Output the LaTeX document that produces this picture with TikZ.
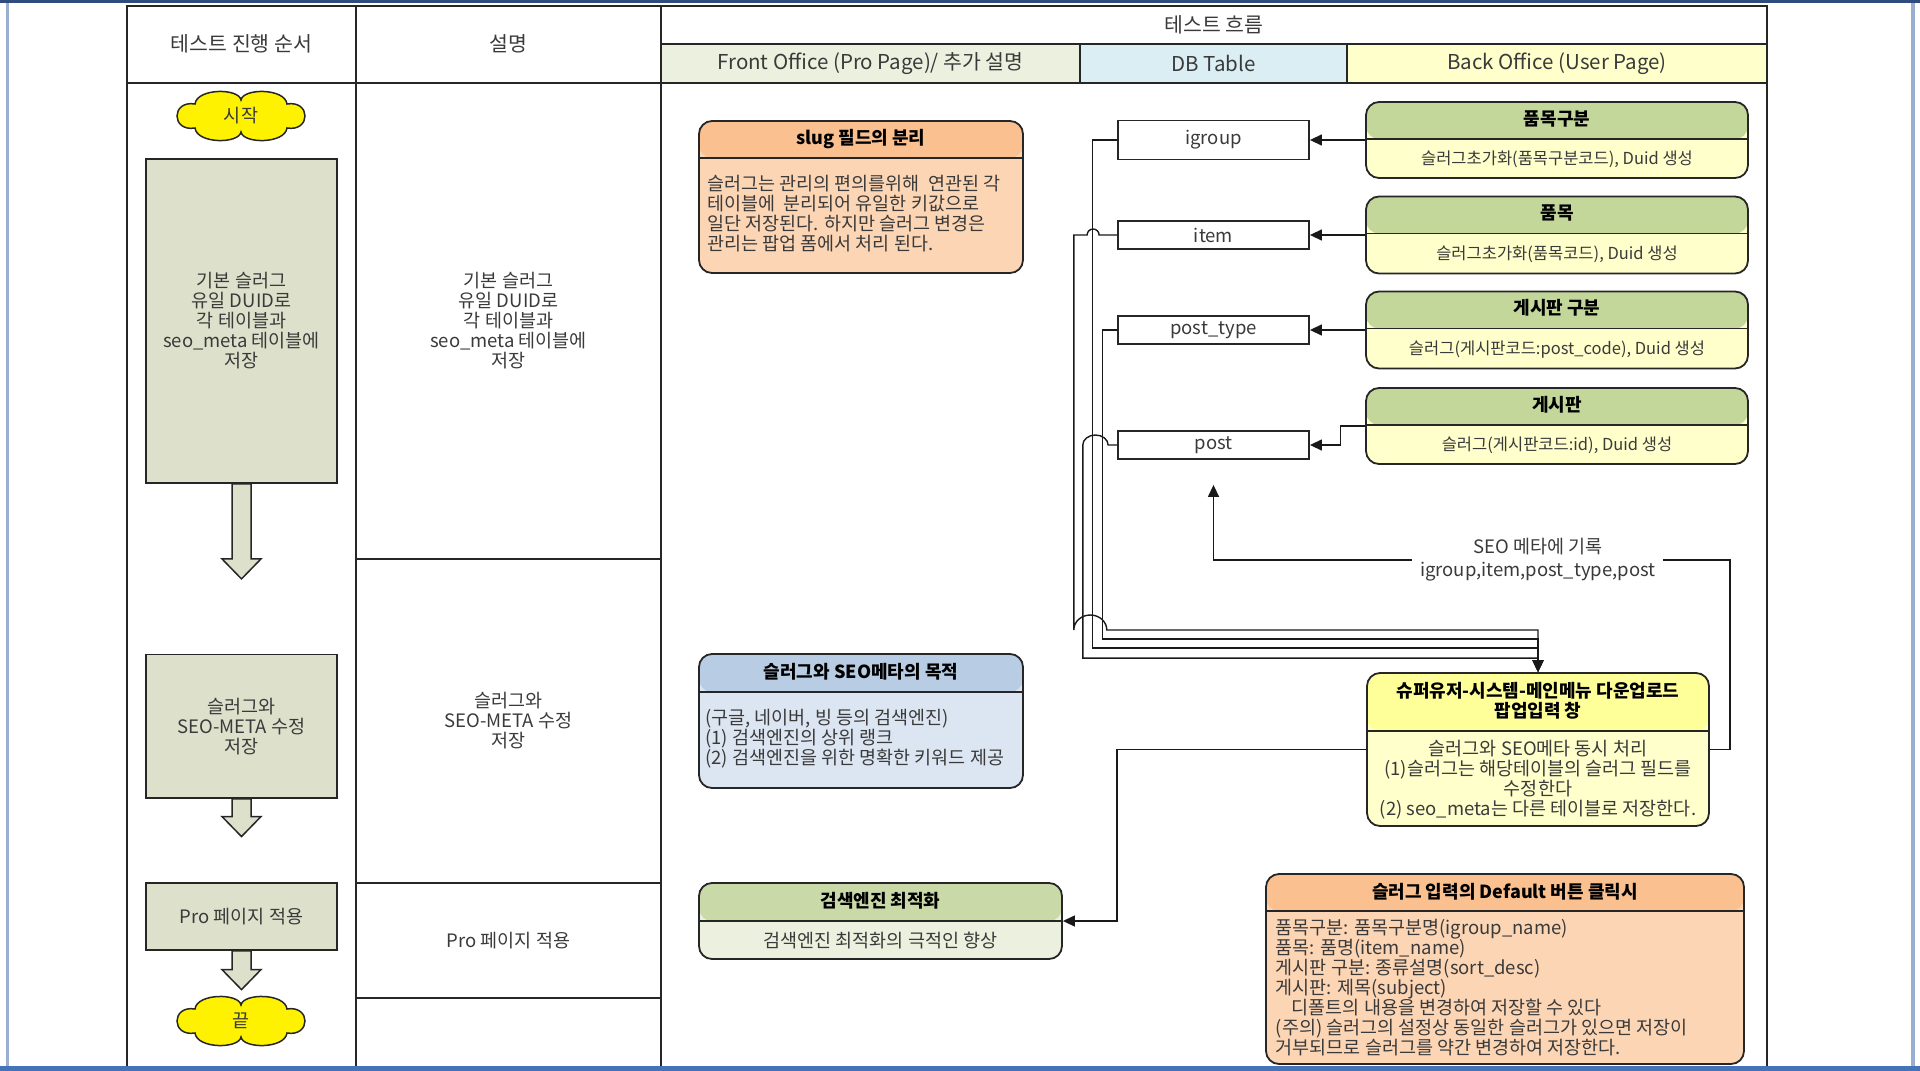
\documentclass[tikz,border=0pt]{standalone}
\usepackage{fontspec}
\setmainfont{Noto Sans CJK KR}
\usetikzlibrary{arrows.meta}
\definecolor{framenavy}{HTML}{2F4B80}
\definecolor{frameblue}{HTML}{4672B9}
\definecolor{framegray}{HTML}{9AAFCF}
\definecolor{txtgray}{HTML}{3A3A3A}
\definecolor{procfill}{HTML}{DDE1CB}
\definecolor{fogreen}{HTML}{EBF1DE}
\definecolor{dbblue}{HTML}{DAEEF3}
\definecolor{boyellow}{HTML}{FFFFCC}
\definecolor{orangehd}{HTML}{FAC090}
\definecolor{orangebd}{HTML}{FCD5B4}
\definecolor{greenhd}{HTML}{C4D79B}
\definecolor{suphd}{HTML}{FFFF99}
\definecolor{bluehd}{HTML}{B8CCE4}
\definecolor{bluebd}{HTML}{DCE6F2}
\definecolor{seohd}{HTML}{CAD9A8}

\begin{document}
\begin{tikzpicture}[x=1pt, y=-1pt, >={Triangle[length=12pt, width=11pt]}]
	\tikzstyle{every node} = [font=\fontsize{18.5}{20}\selectfont, text=txtgray, inner sep=0pt]
	\tikzstyle{cell} = [draw=black!85, line width=1.8pt, align=center]
	\tikzstyle{headcell} = [cell, font=\fontsize{20.5}{22}\selectfont]
	\tikzstyle{procbox} = [draw=black!85, line width=1.8pt, fill=procfill, align=center]
	\tikzstyle{bigarrow} = [draw=black!85, line width=1.5pt, fill=procfill]
	\tikzstyle{startend} = [minimum width=128pt, minimum height=48pt]
	\tikzstyle{cloudline} = [draw=black!85, line width=1.5pt, fill=yellow]
	\tikzstyle{dbbox} = [draw=black!85, line width=1.8pt, fill=white, minimum width=191pt, minimum height=28pt]
	\tikzstyle{hdtext} = [font=\fontsize{18}{20}\selectfont\bfseries, text=black, align=center]
	\tikzstyle{botext} = [font=\fontsize{16.5}{20}\selectfont]
	\tikzstyle{link} = [line width=1.4pt, draw=black!90]
	\tikzstyle{lbl} = [fill=white, align=center, inner xsep=8pt, inner ysep=2pt]
	\tikzset{twobox/.style n args={3}{draw=black!85, line width=1.8pt, rounded corners=13pt, fill=#3,
			path picture={
				\fill[#2] (path picture bounding box.north west) rectangle ([yshift=-#1pt]path picture bounding box.north east);
				\draw[line width=1.8pt] ([yshift=-#1pt]path picture bounding box.north west) -- ([yshift=-#1pt]path picture bounding box.north east);
			}}}
	\useasboundingbox (0,0) rectangle (1920,1071);

	% table
	\node[headcell, minimum width=229pt, minimum height=76.6pt] (hseq) at (241.5,44.3) {테스트 진행 순서};
	\node[headcell, minimum width=305pt, minimum height=76.6pt] (hdesc) at (508.5,44.3) {설명};
	\node[headcell, minimum width=1106pt, minimum height=38pt] (hflow) at (1214,25) {테스트 흐름};
	\node[headcell, fill=fogreen, minimum width=419pt, minimum height=38.6pt] (hfo) at (870.5,63.3) {Front Office (Pro Page)/ 추가 설명};
	\node[headcell, fill=dbblue, minimum width=267pt, minimum height=38.6pt] (hdb) at (1213.5,63.3) {DB Table};
	\node[headcell, fill=boyellow, minimum width=420pt, minimum height=38.6pt] (hbo) at (1557,63.3) {Back Office (User Page)};
	\node[cell, minimum width=229pt, minimum height=988.4pt] (cseq) at (241.5,576.8) {};
	\node[cell, minimum width=1106pt, minimum height=988.4pt] (cflow) at (1214,576.8) {};
	\node[cell, minimum width=305pt, minimum height=476.4pt] (d1) at (508.5,320.8) {기본 슬러그\\유일 DUID로\\각 테이블과\\seo\_meta 테이블에\\저장};
	\node[cell, minimum width=305pt, minimum height=324pt] (d2) at (508.5,721) {슬러그와\\SEO-META 수정\\저장};
	\node[cell, minimum width=305pt, minimum height=115pt] (d3) at (508.5,940.5) {Pro 페이지 적용};
	\node[cell, minimum width=305pt, minimum height=73pt] (d4) at (508.5,1034.5) {};

	% test order
	\node[startend] (start) at (241,116) {};
	\draw[cloudline] (start.center) ++(0,-16) .. controls +(2,-12) and +(-2,-16) .. ++(46,4)
		.. controls +(24,-4) and +(24,4) .. ++(0,24)
		.. controls +(-2,16) and +(2,12) .. ++(-46,4)
		.. controls +(-2,12) and +(2,16) .. ++(-46,-4)
		.. controls +(-24,4) and +(-24,-4) .. ++(0,-24)
		.. controls +(2,-16) and +(-2,-12) .. cycle;
	\node (startt) at (start.center) {시작};
	\node[procbox, minimum width=191pt, minimum height=324pt] (s1) at (241.5,321) {기본 슬러그\\유일 DUID로\\각 테이블과\\seo\_meta 테이블에\\저장};
	\draw[bigarrow] ([xshift=-9.5pt]s1.south) -- ++(0,75) -- ++(-10,0) -- ++(19.5,20) -- ++(19.5,-20) -- ++(-10,0) -- ++(0,-75) -- cycle;
	\node[procbox, minimum width=191pt, minimum height=143.5pt] (s2) at (241.5,726.3) {슬러그와\\SEO-META 수정\\저장};
	\draw[bigarrow] ([xshift=-9.5pt]s2.south) -- ++(0,17.6) -- ++(-10,0) -- ++(19.5,20) -- ++(19.5,-20) -- ++(-10,0) -- ++(0,-17.6) -- cycle;
	\node[procbox, minimum width=191pt, minimum height=67pt] (s3) at (241.5,916.5) {Pro 페이지 적용};
	\draw[bigarrow] ([xshift=-9.5pt]s3.south) -- ++(0,18.7) -- ++(-10,0) -- ++(19.5,20) -- ++(19.5,-20) -- ++(-10,0) -- ++(0,-18.7) -- cycle;
	\node[startend] (finish) at (241,1021) {};
	\draw[cloudline] (finish.center) ++(0,-16) .. controls +(2,-12) and +(-2,-16) .. ++(46,4)
		.. controls +(24,-4) and +(24,4) .. ++(0,24)
		.. controls +(-2,16) and +(2,12) .. ++(-46,4)
		.. controls +(-2,12) and +(2,16) .. ++(-46,-4)
		.. controls +(-24,4) and +(-24,-4) .. ++(0,-24)
		.. controls +(2,-16) and +(-2,-12) .. cycle;
	\node (finisht) at (finish.center) {끝};

	% front office
	\node[twobox={37}{orangehd}{orangebd}, minimum width=324pt, minimum height=152pt] (slug) at (861,197) {};
	\node[hdtext] (slugh) at ([yshift=-18.5pt]slug.north) {slug 필드의 분리};
	\node[anchor=west, align=left] (slugb) at ([xshift=9pt, yshift=-16.5pt]slug.west) {슬러그는 관리의 편의를위해\ \ 연관된 각\\테이블에\ \ 분리되어 유일한 키값으로\\일단 저장된다. 하지만 슬러그 변경은\\관리는 팝업 폼에서 처리 된다.};

	\node[twobox={38}{bluehd}{bluebd}, minimum width=324pt, minimum height=134pt] (goal) at (861,721) {};
	\node[hdtext] (goalh) at ([yshift=-19pt]goal.north) {슬러그와 SEO메타의 목적};
	\node[anchor=west, align=left] (goalb) at ([xshift=7pt, yshift=-18pt]goal.west) {(구글, 네이버, 빙 등의 검색엔진)\\(1) 검색엔진의 상위 랭크\\(2) 검색엔진을 위한 명확한 키워드 제공};

	\node[twobox={38}{seohd}{fogreen}, minimum width=363pt, minimum height=76pt] (opt) at (880.5,921) {};
	\node[hdtext] (opth) at ([yshift=-19pt]opt.north) {검색엔진 최적화};
	\node (optb) at ([yshift=19pt]opt.south) {검색엔진 최적화의 극적인 향상};

	% db table
	\node[dbbox, minimum height=39pt] (igroup) at (1213.5,140) {igroup};
	\node[dbbox] (item) at (1213.5,235) {item};
	\node[dbbox] (ptype) at (1213.5,330) {post\_type};
	\node[dbbox] (post) at (1213.5,445) {post};

	% back office
	\node[twobox={37}{greenhd}{boyellow}, minimum width=382pt, minimum height=76pt] (pg) at (1557,140) {};
	\node[hdtext] (pgh) at ([yshift=-17.5pt]pg.north) {품목구분};
	\node[botext] (pgb) at ([yshift=20pt]pg.south) {슬러그초가화(품목구분코드), Duid 생성};
	\node[twobox={37}{greenhd}{boyellow}, minimum width=382pt, minimum height=77pt] (pm) at (1557,235) {};
	\node[hdtext] (pmh) at ([yshift=-17.5pt]pm.north) {품목};
	\node[botext] (pmb) at ([yshift=20pt]pm.south) {슬러그초가화(품목코드), Duid 생성};
	\node[twobox={37}{greenhd}{boyellow}, minimum width=382pt, minimum height=77pt] (bg) at (1557,330) {};
	\node[hdtext] (bgh) at ([yshift=-17.5pt]bg.north) {게시판 구분};
	\node[botext] (bgb) at ([yshift=20pt]bg.south) {슬러그(게시판코드:post\_code), Duid 생성};
	\node[twobox={37}{greenhd}{boyellow}, minimum width=382pt, minimum height=76pt] (bp) at (1557,426) {};
	\node[hdtext] (bph) at ([yshift=-17.5pt]bp.north) {게시판};
	\node[botext] (bpb) at ([yshift=20pt]bp.south) {슬러그(게시판코드:id), Duid 생성};

	\node[twobox={58}{suphd}{boyellow}, minimum width=342pt, minimum height=153pt] (sup) at (1538,749.5) {};
	\node[hdtext] (suph) at ([yshift=-28.5pt]sup.north) {슈퍼유저-시스템-메인메뉴 다운업로드\\팝업입력 창};
	\node[align=center] (supb) at ([yshift=47.5pt]sup.south) {슬러그와 SEO메타 동시 처리\\(1)슬러그는 해당테이블의 슬러그 필드를\\수정한다\\(2) seo\_meta는 다른 테이블로 저장한다.};

	\node[twobox={37}{orangehd}{orangebd}, minimum width=478pt, minimum height=190pt] (dflt) at (1505,969) {};
	\node[hdtext] (dflth) at ([yshift=-19pt]dflt.north) {슬러그 입력의 Default 버튼 클릭시};
	\node[anchor=west, align=left] (dfltb) at ([xshift=10.5pt, yshift=-19pt]dflt.west) {품목구분: 품목구분명(igroup\_name)\\품목: 품명(item\_name)\\게시판 구분: 종류설명(sort\_desc)\\게시판: 제목(subject)\\\hspace*{16pt}디폴트의 내용을 변경하여 저장할 수 있다\\(주의) 슬러그의 설정상 동일한 슬러그가 있으면 저장이\\거부되므로 슬러그를 약간 변경하여 저장한다.};

	% connectors
	\draw[link, ->] (pg.west) -- (igroup.east);
	\draw[link, ->] (pm.west) -- (item.east);
	\draw[link, ->] (bg.west) -- (ptype.east);
	\draw[link, ->] (bp.west) -- ++(-24.5,0) |- (post.east);
	\draw[link, ->] (igroup.west) -- ++(-24.7,0) |- ([yshift=24pt]sup.north) -- (sup.north);
	\draw[link, ->] (ptype.west) -- ++(-14.7,0) |- ([yshift=33pt]sup.north) -- (sup.north);
	\draw[link, ->] (post.west) -- ++(-9,0) arc[start angle=0, end angle=-180, x radius=12.65, y radius=10] |- ([yshift=14pt]sup.north) -- (sup.north);
	\draw[link, ->] (item.west) -- ++(-18,0) arc[start angle=0, end angle=-180, radius=6] -- ++(-13.3,0) -- ++(0,395) arc[start angle=180, end angle=360, x radius=16.5, y radius=15] -| (sup.north);
	\draw[link, ->] (sup.west) -- ++(-249,0) |- (opt.east);
	\coordinate (seoend) at ([yshift=-25pt]post.south);
	\draw[link, ->] (sup.east) -- ++(20,0) |- node[lbl, pos=.686] (seolbl) {SEO 메타에 기록\\[3pt]igroup,item,post\_type,post} ([yshift=-75pt]seoend) -- (seoend);

	% window frame
	\fill[framenavy] (0,0) rectangle (1920,3);
	\fill[framegray] (6,3) rectangle (8.5,1066);
	\fill[framegray] (1911,3) rectangle (1915,1066);
	\fill[frameblue] (0,1066) rectangle (1920,1071);
\end{tikzpicture}
\end{document}
